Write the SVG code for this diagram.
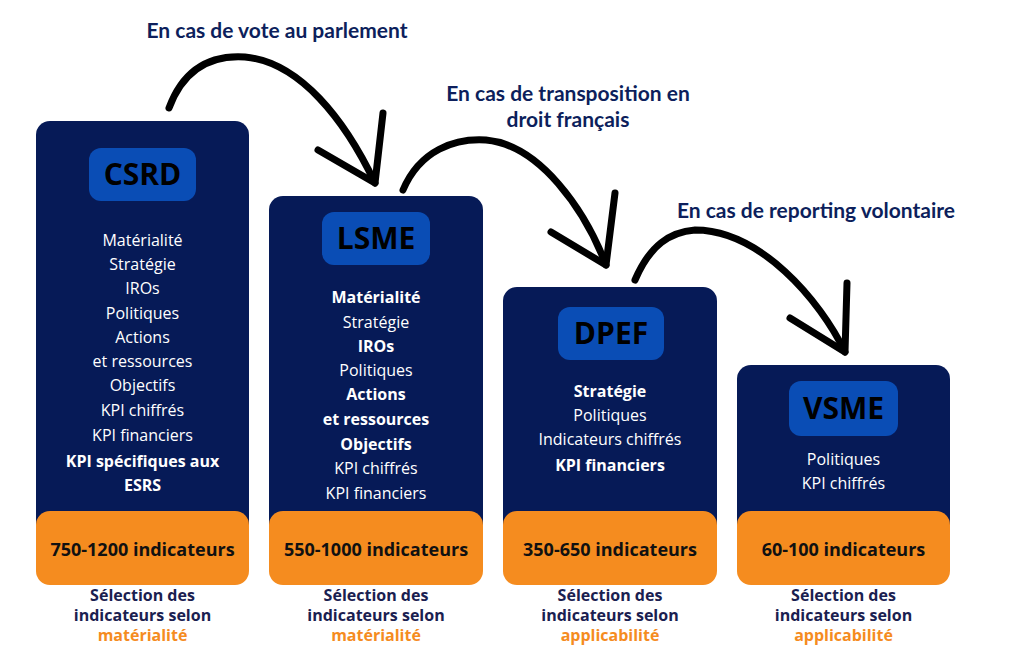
<svg xmlns="http://www.w3.org/2000/svg" width="1025" height="672" viewBox="0 0 1025 672">
<style>
.col{fill:#061a57}
.lab{fill:#0a4db5}
.org{fill:#f58c1f}
.lt{font-family:"Open Sans",sans-serif;font-weight:700;font-size:30px;fill:#000;text-anchor:middle}
.it{font-family:"Open Sans",sans-serif;font-size:16px;fill:#fff;text-anchor:middle}
.b{font-weight:700}
.num{font-family:"Open Sans",sans-serif;font-weight:700;font-size:18px;fill:#111;text-anchor:middle}
.sel{font-family:"Open Sans",sans-serif;font-weight:700;font-size:16px;fill:#1a2050;text-anchor:middle}
.so{fill:#f58c1f}
.ttl{font-family:"Lato",sans-serif;font-weight:700;font-size:21px;fill:#0d1f5c;text-anchor:middle}
.arr{fill:none;stroke:#000;stroke-width:7;stroke-linecap:round;stroke-linejoin:round}
</style>
<rect width="1025" height="672" fill="#fff"/>
<g id="titles">
<text class="ttl" x="277" y="38">En cas de vote au parlement</text>
<text class="ttl" x="568" y="101">En cas de transposition en</text>
<text class="ttl" x="568" y="127">droit français</text>
<text class="ttl" x="816" y="218">En cas de reporting volontaire</text>
</g>
<g id="connectors">
<path class="arr" d="M169,108 C185,65 215,55 245,57 C300,62 345,120 375,183"/>
<path class="arr" d="M318,150 L375,183 L383,113"/>
<path class="arr" d="M403,190 C420,150 455,138 486,140 C540,145 585,210 606,265"/>
<path class="arr" d="M551,232 L606,265 L615,193"/>
<path class="arr" d="M635,280 C650,245 670,232 695,230 C760,230 820,300 845,352"/>
<path class="arr" d="M790,318 L845,352 L847,283"/>
</g>
<g id="csrd">
<rect class="col" x="36" y="121" width="213" height="440" rx="14"/>
<rect class="org" x="36" y="511" width="213" height="74" rx="14"/>
<rect class="lab" x="89" y="148" width="107" height="53" rx="12"/>
<text class="lt" x="142.5" y="185">CSRD</text>
<g class="it">
<text x="142.5" y="246">Matérialité</text>
<text x="142.5" y="270">Stratégie</text>
<text x="142.5" y="294">IROs</text>
<text x="142.5" y="319">Politiques</text>
<text x="142.5" y="343">Actions</text>
<text x="142.5" y="367">et ressources</text>
<text x="142.5" y="391">Objectifs</text>
<text x="142.5" y="416">KPI chiffrés</text>
<text x="142.5" y="441">KPI financiers</text>
<text class="b" x="142.5" y="467">KPI spécifiques aux</text>
<text class="b" x="142.5" y="491">ESRS</text>
</g>
<text class="num" x="142.5" y="556">750-1200 indicateurs</text>
<text class="sel" x="142.5" y="601">Sélection des</text>
<text class="sel" x="142.5" y="621">indicateurs selon</text>
<text class="sel so" x="142.5" y="641">matérialité</text>
</g>
<g id="lsme">
<rect class="col" x="269" y="196" width="214" height="365" rx="14"/>
<rect class="org" x="269" y="511" width="214" height="74" rx="14"/>
<rect class="lab" x="322" y="212" width="108" height="53" rx="12"/>
<text class="lt" x="376" y="249">LSME</text>
<g class="it">
<text class="b" x="376" y="303">Matérialité</text>
<text x="376" y="328">Stratégie</text>
<text class="b" x="376" y="352">IROs</text>
<text x="376" y="376">Politiques</text>
<text class="b" x="376" y="400">Actions</text>
<text class="b" x="376" y="425">et ressources</text>
<text class="b" x="376" y="450">Objectifs</text>
<text x="376" y="474">KPI chiffrés</text>
<text x="376" y="499">KPI financiers</text>
</g>
<text class="num" x="376" y="556">550-1000 indicateurs</text>
<text class="sel" x="376" y="601">Sélection des</text>
<text class="sel" x="376" y="621">indicateurs selon</text>
<text class="sel so" x="376" y="641">matérialité</text>
</g>
<g id="dpef">
<rect class="col" x="503" y="287" width="214" height="274" rx="14"/>
<rect class="org" x="503" y="511" width="214" height="74" rx="14"/>
<rect class="lab" x="558" y="307" width="106" height="53" rx="12"/>
<text class="lt" x="611" y="344">DPEF</text>
<g class="it">
<text class="b" x="610" y="397">Stratégie</text>
<text x="610" y="421">Politiques</text>
<text x="610" y="445">Indicateurs chiffrés</text>
<text class="b" x="610" y="471">KPI financiers</text>
</g>
<text class="num" x="610" y="556">350-650 indicateurs</text>
<text class="sel" x="610" y="601">Sélection des</text>
<text class="sel" x="610" y="621">indicateurs selon</text>
<text class="sel so" x="610" y="641">applicabilité</text>
</g>
<g id="vsme">
<rect class="col" x="737" y="365" width="213" height="196" rx="14"/>
<rect class="org" x="737" y="511" width="213" height="74" rx="14"/>
<rect class="lab" x="789" y="381" width="109" height="55" rx="12"/>
<text class="lt" x="843.5" y="419">VSME</text>
<g class="it">
<text x="843.5" y="465">Politiques</text>
<text x="843.5" y="489">KPI chiffrés</text>
</g>
<text class="num" x="843.5" y="556">60-100 indicateurs</text>
<text class="sel" x="843.5" y="601">Sélection des</text>
<text class="sel" x="843.5" y="621">indicateurs selon</text>
<text class="sel so" x="843.5" y="641">applicabilité</text>
</g>
</svg>
